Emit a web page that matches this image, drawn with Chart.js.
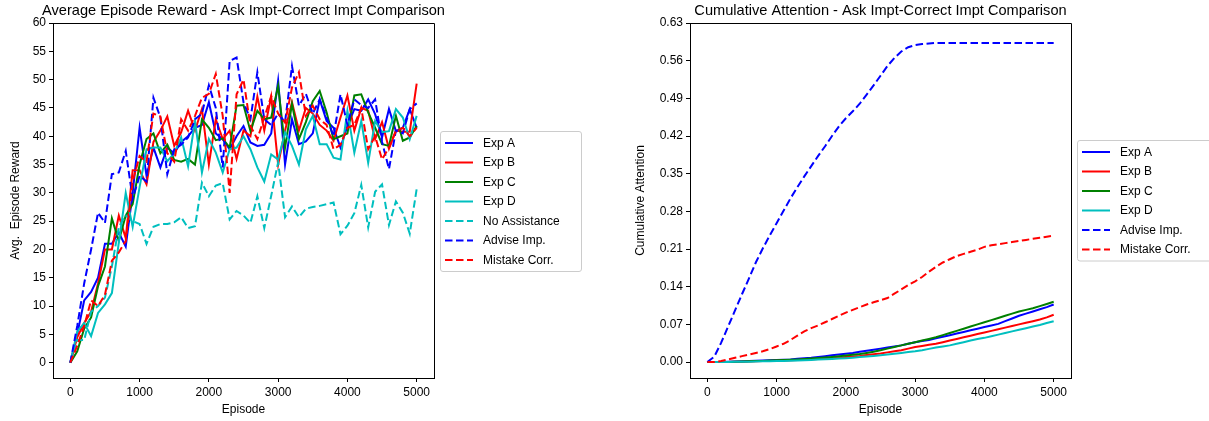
<!DOCTYPE html>
<html><head><meta charset="utf-8">
<script src="https://cdn.jsdelivr.net/npm/chart.js@4/dist/chart.umd.min.js"></script>
<style>
html,body{margin:0;padding:0;background:#fff;width:1209px;height:421px;overflow:hidden}
canvas{position:absolute;top:0}
#c1{left:0}
#c2{left:620px}
</style></head><body>
<canvas id="c1" width="620" height="421" style="width:620px;height:421px"></canvas>
<canvas id="c2" width="589" height="421" style="width:589px;height:421px"></canvas>
<script>
// ---------- data ----------
const episodes = [0,100,200,300,400,500,600,700,800,900,1000,1100,1200,1300,1400,1500,1600,1700,1800,1900,2000,2100,2200,2300,2400,2500,2600,2700,2800,2900,3000,3100,3200,3300,3400,3500,3600,3700,3800,3900,4000,4100,4200,4300,4400,4500,4600,4700,4800,4900,5000];

const xTickValues = [0,1000,2000,3000,4000,5000];
const rewardTickValues = [0,5,10,15,20,25,30,35,40,45,50,55,60];
const attentionTickValues = [0,0.07,0.14,0.21,0.28,0.35,0.42,0.49,0.56,0.63];

// Average episode reward
const expA_reward = [0,5,11,12.5,15,21,21,23,20.5,30,41.5,33,38,34.5,38,37,39,40,41.5,42,46,40.5,39.5,37.7,40,41.8,38.9,38.3,38.5,40.5,49.8,35,43,38.6,39.1,40.5,46.5,42.7,41.5,38,41.8,44.8,44.5,46.5,43.9,39.8,44.8,40.9,41.5,44.8,41.5];
const expB_reward = [0,4.5,7,9,14,20,20,26,22,34,34,31.5,39,41,43.5,38.3,40.7,44.5,41,44.8,35,43,39.5,41,36,41,40,47,41,47,35,41,46,41,45,44,42,41,39.2,43.3,47.2,41,45,44.5,39.5,42.5,37.8,41,40.8,40.8,49.3];
const expC_reward = [0,2,6,8,13.5,17,25.5,21.5,26,28,35,39.5,40.5,37,38.5,35.8,35.5,36,35,43,41.5,39.3,39.6,38,45.4,45.5,40.9,44.5,43,43.3,48.9,38,45.7,39.5,42.5,46.2,48,44.2,39.5,40,40.5,47.2,47.4,44.2,41.5,38.6,38.3,43.6,39.2,39.8,41.8];
const expD_reward = [0,5.5,7,4.7,8.8,10.3,12.3,21.2,30,24,31,37.7,38,38,35.6,37,39.8,34.7,42.7,33.6,39.5,37.1,33.6,37.7,38,40,37.7,34.5,32,36.8,35.9,40.7,38.3,35,41.2,43.6,38.6,38.6,36.2,35.9,44.5,37.1,42.7,35.3,42.7,40.7,40.9,44.8,43.3,39.5,43.6];
const noAssist_reward = [0,4,4,9,10,11.5,17,24,26,25,24.5,21,24,24.5,24.5,24.8,25.7,23.8,24.1,31.8,29.4,31.3,31.7,25.3,26.8,26,24.7,29.4,23.8,29.5,35.4,25.7,27.6,25.7,27.2,27.5,27.7,28,28.3,22.7,24.2,26.4,31.4,23.9,30.2,31.5,24.3,28.5,26.5,22.8,30.7];
const adviseImp_reward = [0,6.5,14,20,26.5,24.7,33.3,33.6,37.4,29,33,32,46.8,43.3,33.3,37.7,38.5,39.8,43,44,49,45,34.5,53.3,53.9,46,43,51.3,43,42,44,42.5,52.4,45.4,47.5,44,46.5,43.3,40,47.4,42,46.5,45.5,45,46.5,39,34.2,41,40.5,44.8,45.8];
const mistakeCorr_reward = [0,3,6.5,11,10,12,18,19.5,21.5,32,36.5,35.5,44,43.5,37,35.5,43,41,43.6,46.8,47.5,51,43.6,30,47.4,50,41.8,39.5,43.3,47.1,44,42.4,48.6,51.3,43.6,45.4,43,42,37.7,38.5,41.5,42,45,37.7,40,35.9,38,40.9,41.5,40,41.5];

// Cumulative attention
const expA_att = [0,0,0.0002,0.0005,0.001,0.0015,0.002,0.0025,0.003,0.0035,0.004,0.0045,0.005,0.006,0.007,0.008,0.0095,0.011,0.0125,0.014,0.0155,0.017,0.019,0.021,0.023,0.025,0.027,0.029,0.031,0.034,0.037,0.039,0.041,0.044,0.047,0.050,0.053,0.056,0.059,0.062,0.065,0.068,0.071,0.076,0.081,0.086,0.090,0.094,0.098,0.102,0.107];
const expB_att = [0,0,0.0001,0.0003,0.0005,0.0008,0.0011,0.0014,0.0018,0.0022,0.0026,0.003,0.0035,0.004,0.0046,0.0052,0.0058,0.0065,0.0073,0.0082,0.0092,0.0103,0.0115,0.013,0.0145,0.016,0.018,0.020,0.022,0.025,0.028,0.030,0.032,0.034,0.037,0.040,0.043,0.046,0.049,0.052,0.055,0.058,0.061,0.064,0.067,0.070,0.073,0.076,0.079,0.083,0.088];
const expC_att = [0,0,0.0001,0.0003,0.0006,0.001,0.0014,0.0018,0.0022,0.0027,0.0032,0.0037,0.0043,0.005,0.0058,0.0066,0.0075,0.0085,0.0095,0.0107,0.012,0.0135,0.015,0.017,0.019,0.022,0.025,0.028,0.031,0.034,0.037,0.040,0.043,0.046,0.050,0.054,0.058,0.062,0.066,0.070,0.074,0.078,0.082,0.086,0.090,0.094,0.097,0.100,0.104,0.108,0.112];
const expD_att = [0,0,0.0001,0.0002,0.0004,0.0006,0.0008,0.001,0.0013,0.0016,0.0019,0.0022,0.0026,0.003,0.0035,0.004,0.0046,0.0052,0.0058,0.0065,0.0073,0.0082,0.0092,0.0102,0.0113,0.0125,0.014,0.0155,0.017,0.0185,0.020,0.022,0.0245,0.027,0.029,0.031,0.034,0.037,0.040,0.043,0.045,0.048,0.051,0.054,0.057,0.060,0.063,0.066,0.069,0.0725,0.076];
const adviseImp_att = [0,0.010,0.036,0.066,0.096,0.126,0.155,0.185,0.211,0.235,0.258,0.281,0.304,0.325,0.345,0.364,0.383,0.401,0.420,0.438,0.453,0.466,0.480,0.497,0.514,0.532,0.550,0.565,0.577,0.585,0.589,0.591,0.592,0.593,0.593,0.593,0.593,0.593,0.593,0.593,0.593,0.593,0.593,0.593,0.593,0.593,0.593,0.593,0.593,0.593,0.593];
const mistakeCorr_att = [0,0,0.002,0.005,0.008,0.011,0.014,0.017,0.020,0.024,0.029,0.034,0.041,0.049,0.057,0.063,0.068,0.074,0.080,0.086,0.092,0.097,0.102,0.107,0.111,0.115,0.119,0.127,0.135,0.143,0.150,0.158,0.168,0.177,0.185,0.191,0.197,0.201,0.205,0.209,0.214,0.217,0.219,0.221,0.223,0.225,0.227,0.229,0.231,0.233,0.235];

// ---------- styling ----------
const FONT = "'Liberation Sans', Arial, sans-serif";
const BLUE = '#0000ff', RED = '#ff0000', GREEN = '#008000', CYAN = '#00bfbf';
const DASH = [7.5, 3.5];
const LW = 2;

function pts(vals){ return vals.map((v,i)=>({x:episodes[i], y:v})); }
function ds(label, vals, color, dashed, idx, n){
  return {label, data:pts(vals), borderColor:color, backgroundColor:color,
          borderWidth:LW, borderDash: dashed?DASH:[], fill:false, pointRadius:0,
          tension:0, order:n-idx, _dashed:dashed};
}

function decorPlugin(title){
  return {
    id:'decor',
    afterDraw(chart){
      const ctx = chart.ctx, a = chart.chartArea;
      ctx.save();
      // frame
      ctx.strokeStyle = '#000'; ctx.lineWidth = 1; ctx.setLineDash([]);
      const L = Math.round(a.left)+0.5, T = Math.round(a.top)+0.5;
      const R = Math.round(a.right)+0.5, B = Math.round(a.bottom)+0.5;
      ctx.beginPath(); ctx.moveTo(L,T); ctx.lineTo(R,T); ctx.lineTo(R,B); ctx.lineTo(L,B); ctx.closePath(); ctx.stroke();
      // title
      ctx.fillStyle = '#000'; ctx.font = '14.6px ' + FONT;
      ctx.textAlign = 'center'; ctx.textBaseline = 'middle';
      ctx.fillText(title, (a.left+a.right)/2, 11);
      // legend
      const sets = chart.data.datasets;
      const n = sets.length, step = 19.5;
      const h = n*step + 3.5, w = 141;
      const bx = Math.round(a.right) + 6.5;
      const by = Math.round((a.top + a.bottom)/2 - h/2) + 0.5;
      ctx.fillStyle = 'rgba(255,255,255,0.8)';
      ctx.strokeStyle = '#cccccc'; ctx.lineWidth = 1;
      const r = 2.5;
      ctx.beginPath();
      ctx.moveTo(bx+r,by); ctx.lineTo(bx+w-r,by); ctx.arcTo(bx+w,by,bx+w,by+r,r);
      ctx.lineTo(bx+w,by+h-r); ctx.arcTo(bx+w,by+h,bx+w-r,by+h,r);
      ctx.lineTo(bx+r,by+h); ctx.arcTo(bx,by+h,bx,by+h-r,r);
      ctx.lineTo(bx,by+r); ctx.arcTo(bx,by,bx+r,by,r); ctx.closePath();
      ctx.fill(); ctx.stroke();
      ctx.font = '12px ' + FONT; ctx.textAlign = 'left'; ctx.textBaseline = 'middle';
      sets.forEach((d,i)=>{
        const y = by + 11.5 + i*step;
        ctx.strokeStyle = d.borderColor; ctx.lineWidth = LW;
        ctx.setLineDash(d._dashed ? DASH : []);
        ctx.beginPath(); ctx.moveTo(bx+4.5, y); ctx.lineTo(bx+32.5, y); ctx.stroke();
        ctx.setLineDash([]);
        ctx.fillStyle = '#000';
        ctx.fillText(d.label, bx+42.5, y+0.5);
      });
      ctx.restore();
    }
  };
}

function makeOptions(o){
  const tickFont = {family:FONT, size:12};
  return {
    responsive:false, animation:false, devicePixelRatio:1,
    layout:{padding:{left:0, right:o.padRight, top:23, bottom:0}},
    plugins:{legend:{display:false}, title:{display:false}, tooltip:{enabled:false}},
    scales:{
      x:{type:'linear', min:-250, max:5250,
         afterBuildTicks:s=>{ s.ticks = xTickValues.map(v=>({value:v})); },
         afterFit:s=>{ s.height = 43; },
         grid:{drawOnChartArea:false, drawTicks:true, tickLength:4, color:'#000', lineWidth:1},
         border:{display:true, color:'#000', width:1},
         ticks:{color:'#000', font:tickFont, padding:3, maxRotation:0, autoSkip:false, callback:v=>String(v)},
         title:{display:true, text:'Episode', color:'#000', font:tickFont, padding:{top:0,bottom:4}}
      },
      y:{type:'linear', min:o.ymin, max:o.ymax,
         afterBuildTicks:s=>{ s.ticks = o.yTicks.map(v=>({value:v})); },
         afterFit:s=>{ s.width = o.yWidth; },
         grid:{drawOnChartArea:false, drawTicks:true, tickLength:4, color:'#000', lineWidth:1},
         border:{display:true, color:'#000', width:1},
         ticks:{color:'#000', font:tickFont, padding:3, autoSkip:false, callback:o.fmt},
         title:{display:true, text:o.yTitle, color:'#000', font:tickFont, padding:{top:o.yTitlePad,bottom:0}}
      }
    }
  };
}

// Left chart
const leftSets = [
  ['Exp A', expA_reward, BLUE, false],
  ['Exp B', expB_reward, RED, false],
  ['Exp C', expC_reward, GREEN, false],
  ['Exp D', expD_reward, CYAN, false],
  ['No Assistance', noAssist_reward, CYAN, true],
  ['Advise Imp.', adviseImp_reward, BLUE, true],
  ['Mistake Corr.', mistakeCorr_reward, RED, true]
];
new Chart(document.getElementById('c1'), {
  type:'line',
  data:{datasets:leftSets.map((s,i)=>ds(s[0],s[1],s[2],s[3],i,leftSets.length))},
  options:makeOptions({padRight:186, ymin:-2.7, ymax:60, yTicks:rewardTickValues, yWidth:53,
    yTitle:'Avg.  Episode Reward', yTitlePad:8, fmt:v=>String(v)}),
  plugins:[decorPlugin('Average Episode Reward - Ask Impt-Correct Impt Comparison')]
});

// Right chart
const rightSets = [
  ['Exp A', expA_att, BLUE, false],
  ['Exp B', expB_att, RED, false],
  ['Exp C', expC_att, GREEN, false],
  ['Exp D', expD_att, CYAN, false],
  ['Advise Imp.', adviseImp_att, BLUE, true],
  ['Mistake Corr.', mistakeCorr_att, RED, true]
];
new Chart(document.getElementById('c2'), {
  type:'line',
  data:{datasets:rightSets.map((s,i)=>ds(s[0],s[1],s[2],s[3],i,rightSets.length))},
  options:makeOptions({padRight:138, ymin:-0.0296, ymax:0.63, yTicks:attentionTickValues, yWidth:70,
    yTitle:'Cumulative Attention', yTitlePad:13.5, fmt:v=>Number(v).toFixed(2)}),
  plugins:[decorPlugin('Cumulative Attention - Ask Impt-Correct Impt Comparison')]
});
</script>
</body></html>
